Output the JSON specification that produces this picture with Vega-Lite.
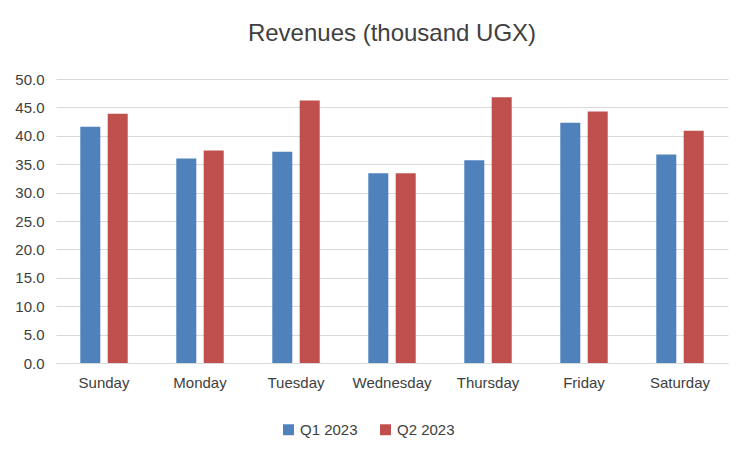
{
  "$schema": "https://vega.github.io/schema/vega-lite/v6.json",
  "width": 672,
  "height": 284,
  "padding": {"left": 14, "right": 10, "top": 22, "bottom": 5},
  "background": "white",
  "title": {"text": "Revenues (thousand UGX)", "font": "Liberation Sans", "fontSize": 24, "fontWeight": "normal", "color": "#404040", "offset": 26},
  "data": {
    "values": [
      {"day": "Sunday", "quarter": "Q1 2023", "rev": 41.6},
      {"day": "Sunday", "quarter": "Q2 2023", "rev": 43.9},
      {"day": "Monday", "quarter": "Q1 2023", "rev": 36.0},
      {"day": "Monday", "quarter": "Q2 2023", "rev": 37.4},
      {"day": "Tuesday", "quarter": "Q1 2023", "rev": 37.2},
      {"day": "Tuesday", "quarter": "Q2 2023", "rev": 46.2},
      {"day": "Wednesday", "quarter": "Q1 2023", "rev": 33.4},
      {"day": "Wednesday", "quarter": "Q2 2023", "rev": 33.4},
      {"day": "Thursday", "quarter": "Q1 2023", "rev": 35.7},
      {"day": "Thursday", "quarter": "Q2 2023", "rev": 46.8},
      {"day": "Friday", "quarter": "Q1 2023", "rev": 42.3},
      {"day": "Friday", "quarter": "Q2 2023", "rev": 44.3},
      {"day": "Saturday", "quarter": "Q1 2023", "rev": 36.7},
      {"day": "Saturday", "quarter": "Q2 2023", "rev": 40.9}
    ]
  },
  "mark": {"type": "bar", "width": 20},
  "encoding": {
    "x": {
      "field": "day", "type": "nominal", "sort": null, "title": null,
      "scale": {"paddingInner": 0, "paddingOuter": 0},
      "axis": {"labelAngle": 0, "labelFontSize": 15, "labelFont": "Liberation Sans", "labelColor": "#404040", "ticks": false, "domainColor": "#d9d9d9", "labelPadding": 12}
    },
    "xOffset": {"field": "quarter", "type": "nominal", "scale": {"paddingInner": 0.3, "paddingOuter": 0.9}},
    "y": {
      "field": "rev", "type": "quantitative", "title": null,
      "scale": {"domain": [0, 50]},
      "axis": {"values": [0,5,10,15,20,25,30,35,40,45,50], "format": ".1f", "labelFontSize": 15, "labelFont": "Liberation Sans", "labelColor": "#404040", "ticks": false, "domain": false, "gridColor": "#d9d9d9", "labelPadding": 12}
    },
    "color": {
      "field": "quarter", "type": "nominal", "title": null,
      "scale": {"range": ["#4f81bd", "#c0504d"]},
      "legend": {"orient": "none", "legendX": 225, "legendY": 343, "direction": "horizontal", "symbolType": "square", "symbolSize": 120, "labelFontSize": 15, "labelFont": "Liberation Sans", "labelColor": "#404040", "columnPadding": 20}
    }
  },
  "config": {"view": {"stroke": null}}
}
